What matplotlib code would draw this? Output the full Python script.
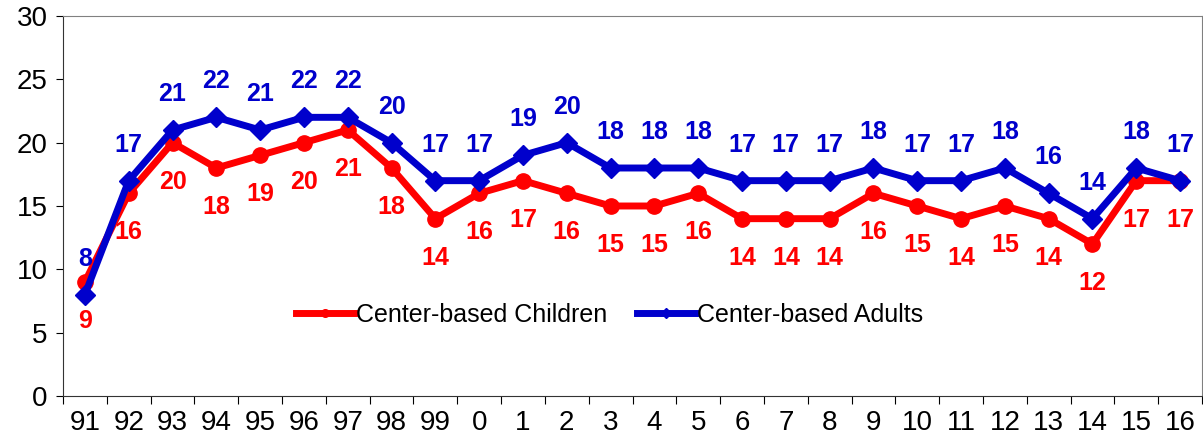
import numpy as np
import matplotlib.pyplot as plt

plt.rcParams['font.family'] = ['Liberation Sans', 'DejaVu Sans']

years = ["91", "92", "93", "94", "95", "96", "97", "98", "99", "0", "1", "2", "3",
         "4", "5", "6", "7", "8", "9", "10", "11", "12", "13", "14", "15", "16"]
children = [9, 16, 20, 18, 19, 20, 21, 18, 14, 16, 17, 16, 15, 15, 16, 14, 14, 14,
            16, 15, 14, 15, 14, 12, 17, 17]
adults = [8, 17, 21, 22, 21, 22, 22, 20, 17, 17, 19, 20, 18, 18, 18, 17, 17, 17,
          18, 17, 17, 18, 16, 14, 18, 17]

red = "#ff0000"
blue = "#0000cc"

fig = plt.figure(figsize=(12.03, 4.43), dpi=100)
ax = fig.add_axes([63 / 1203, 47 / 443, 1139 / 1203, 380 / 443])

x = np.arange(len(years)) + 0.5
ax.plot(x, children, color=red, lw=5, marker="o", ms=11, label="Center-based Children")
ax.plot(x, adults, color=blue, lw=5, marker="D", ms=10, label="Center-based Adults")

for xi, c, a in zip(x, children, adults):
    ax.annotate(str(c), (xi, c), xytext=(0, -28), textcoords="offset points",
                ha="center", va="center", color=red, fontsize=18, fontweight="bold")
    ax.annotate(str(a), (xi, a), xytext=(0, 26), textcoords="offset points",
                ha="center", va="center", color=blue, fontsize=18, fontweight="bold")

ax.set_xlim(0, len(years))
ax.set_ylim(0, 30)
ax.set_yticks(range(0, 31, 5))
ax.tick_params(axis="y", labelsize=20, length=5, direction="out", pad=6)
ax.set_xticks(np.arange(len(years) + 1))
ax.set_xticklabels([])
ax.set_xticks(x, minor=True)
ax.set_xticklabels(years, minor=True)
ax.tick_params(axis="x", which="major", length=6, direction="out")
ax.tick_params(axis="x", which="minor", length=0, labelsize=20, pad=10)

for s in ["top", "right"]:
    ax.spines[s].set_color("#808080")
ax.spines["left"].set_color("#333333")
ax.spines["bottom"].set_color("#333333")

ax.legend(loc="center", bbox_to_anchor=(0.48, 0.213), ncol=2, frameon=False,
          fontsize=18, handlelength=2.3, handletextpad=0.1, columnspacing=1.2,
          markerscale=0.5)

fig.savefig("out.png", dpi=100)
